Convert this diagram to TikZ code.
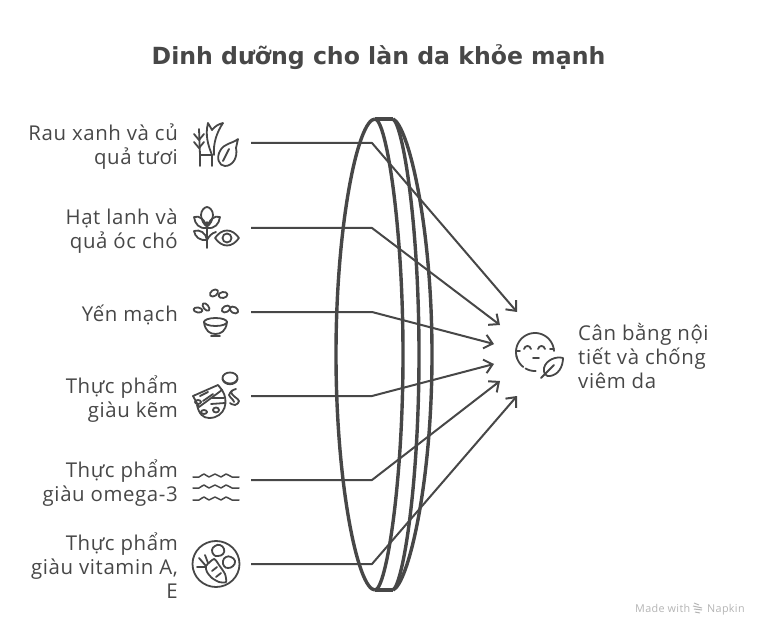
\documentclass[tikz,border=0pt]{standalone}
\usepackage{fontspec}
\setmainfont[LetterSpace=3]{Open Sans}
\newfontfamily\titlefont{DejaVu Sans}
\usetikzlibrary{arrows.meta}
\definecolor{ink}{HTML}{474747}
\definecolor{foot}{HTML}{B4B4B4}
\tikzset{
  lens/.style={draw=ink,line width=3.4pt},
  link/.style={draw=ink,line width=2pt,line join=round},
  linkarrow/.style={link,-{Straight Barb[length=8pt,width=14pt,line width=2pt]}},
  icon/.style={draw=ink,line width=1.8pt,line cap=round,line join=round},
  lab/.style={text=ink,font=\fontsize{20.4}{24}\selectfont,align=right,anchor=east,inner sep=0pt},
  labr/.style={text=ink,font=\fontsize{20.4}{24}\selectfont,align=left,anchor=west,inner sep=0pt},
  ttl/.style={text=ink,font=\titlefont\bfseries\fontsize{23.6}{26}\selectfont,inner sep=0pt},
  footer/.style={text=foot,font=\fontsize{10.8}{12}\selectfont,inner sep=0pt}
}
\begin{document}
\begin{tikzpicture}[x=1pt,y=-1pt]
\useasboundingbox (0,0) rectangle (768,636);
\node[ttl] (title) at (378.5,57.5) {Dinh dưỡng cho làn da khỏe mạnh};

% lens
\draw[lens] (375,119) .. controls (358,119) and (336,224) .. (336,354.5) .. controls (336,485) and (358,590) .. (375,590);
\draw[lens] (375,119) .. controls (386,119) and (403,224) .. (403,354.5) .. controls (403,485) and (386,590) .. (375,590);
\draw[lens] (393,119) .. controls (403,125) and (419,224) .. (419,354.5) .. controls (419,485) and (403,584) .. (393,590);
\draw[lens] (393,119) .. controls (408,125) and (432,224) .. (432,354.5) .. controls (432,485) and (408,584) .. (393,590);
\draw[lens] (375,119) -- (393,119);
\draw[lens] (375,590) -- (393,590);

% labels
\node[lab] (l1) at (178,147) {Rau xanh và củ\\quả tươi};
\node[lab] (l2) at (178,231) {Hạt lanh và\\quả óc chó};
\node[lab] (l3) at (178,315) {Yến mạch};
\node[lab] (l4) at (178,399) {Thực phẩm\\giàu kẽm};
\node[lab] (l5) at (178,483) {Thực phẩm\\giàu omega-3};
\node[lab] (l6) at (178,566) {Thực phẩm\\giàu vitamin A,\\E};
\node[labr] (r) at (578,355.5) {Cân bằng nội\\tiết và chống\\viêm da};
\node[footer,anchor=base west] (f1) at (635,612) {Made with};
\node[footer,anchor=base west] (f2) at (707,612) {Napkin};

% connectors
\foreach \n/\y/\tx/\ty in {1/143/517/312,2/228/500/325,3/312/494/344,4/396/494/364,5/480/500/381,6/564/517/396}{
  \coordinate (s\n) at (251,\y);
  \coordinate (b\n) at (372,\y);
  \coordinate (t\n) at (\tx,\ty);
  \draw[linkarrow] (s\n) -- (b\n) -- (t\n);
}

% icon 1
\draw[icon] (200,166) -- (200,155) -- (212,155) -- (212,166);
\draw[icon] (200,155) -- (199,129);
\draw[icon] (194,134) -- (199,140) -- (204,134) (194,142) -- (199,148) -- (204,142);
\draw[icon] (212,155) .. controls (208,145) and (205,135) .. (208,123) -- (212,130) .. controls (215,126) and (219,124) .. (223,123) .. controls (217,132) and (213,143) .. (214,155);
\draw[icon] (238,139) .. controls (232,144) and (224,143) .. (220,151) .. controls (216,158) and (219,166) .. (225,166) .. controls (233,166) and (238,157) .. (236,148) -- cycle;
\draw[icon] (223,161) -- (229,149);

% icon 2
\draw[icon] (207,248) -- (207,222);
\draw[icon] plot[smooth cycle,tension=.8] coordinates {(207,207) (201,215) (207,226) (213,215)};
\draw[icon] (194,217) .. controls (200,215) and (205,220) .. (207,228) .. controls (199,229) and (195,224) .. (194,217);
\draw[icon] (220,217) .. controls (214,215) and (209,220) .. (207,228) .. controls (215,229) and (219,224) .. (220,217);
\draw[icon] (194,231) .. controls (200,229) and (206,233) .. (207,240) .. controls (200,241) and (195,237) .. (194,231);
\draw[icon] (207,240) .. controls (209,236) and (212,233) .. (216,232);
\draw[icon] (215,238) .. controls (222,228) and (232,228) .. (239,238) .. controls (232,248) and (222,248) .. (215,238) -- cycle;
\draw[icon] (227,238) ellipse [x radius=4.5,y radius=4.5];

% icon 3
\draw[icon] (215.5,322) ellipse [x radius=11.5,y radius=4];
\draw[icon] (204,322) .. controls (205,331) and (210,334) .. (215.5,334) .. controls (221,334) and (226,331) .. (227,322);
\draw[icon] (211,336) -- (220,336);
\draw[icon,rotate around={35:(214,293)}] (214,293) ellipse [x radius=4.5,y radius=3];
\draw[icon,rotate around={10:(223,295)}] (223,295) ellipse [x radius=4.5,y radius=3];
\draw[icon,rotate around={-10:(198,310)}] (198,310) ellipse [x radius=4.5,y radius=2.5];
\draw[icon,rotate around={-50:(206,307)}] (206,307) ellipse [x radius=4.5,y radius=2.5];
\draw[icon,rotate around={30:(226,309)}] (226,309) ellipse [x radius=4.5,y radius=3];
\draw[icon,rotate around={-30:(234,310)}] (234,310) ellipse [x radius=4.5,y radius=3];

% icon 4
\draw[icon] (230,378) ellipse [x radius=7.5,y radius=5.5];
\draw[icon] (222.5,379) .. controls (224,386) and (236,386) .. (237.5,379);
\draw[icon] plot[smooth,tension=.8] coordinates {(236,389) (231,392) (235,397) (239,401) (235,405) (230,403)};
\draw[icon] plot[smooth,tension=.7] coordinates {(232,391) (229,395) (233,400) (234,402)};
\draw[icon] (193,396) -- (218,385) -- (222,390) -- (199,407) -- cycle;
\draw[icon] (200,396) -- (208,392) (203,401) -- (213,394);
\draw[icon] (222,390) .. controls (229,400) and (226,418) .. (209,418) .. controls (203,418) and (199,414) .. (197,405);
\draw[icon] (212,398) -- (224,398) (211,404) -- (225,403);
\draw[icon] (204,412) ellipse [x radius=3,y radius=2];
\draw[icon] (216,410) ellipse [x radius=3,y radius=2.5];
\draw[icon] (198,402) ellipse [x radius=3,y radius=2];

% icon 5
\foreach \dy in {0,11,23}{
  \draw[icon,line width=1.5pt,yshift=-\dy pt] plot[smooth,tension=.6] coordinates {(193,477) (199,477) (204,474) (209,477) (215,474) (221,477) (226,474) (232,477) (239,477)};
}

% icon 6
\draw[icon] (216,564) ellipse [x radius=23.5,y radius=23];
\draw[icon] plot[smooth cycle,tension=.4] coordinates {(206,566) (214,559) (219,565) (225,574) (226,582) (219,582) (212,578) (207,572)};
\draw[icon] (206,566) -- (199,558) (205,567) -- (197,567) (208,563) -- (205,555);
\draw[icon] (212,571) -- (217,567) (216,577) -- (221,573);
\draw[icon] plot[smooth cycle,tension=.8] coordinates {(212,550) (215,546) (220,545) (224,549) (223,554) (218,556) (214,555)};
\draw[icon] plot[smooth cycle,tension=.8] coordinates {(223,561) (226,557) (231,557) (235,561) (233,566) (228,568) (224,566)};

% result icon
\draw[icon] plot[domain=-200:-3,samples=30] ({535+19*cos(\x)},{352+19*sin(\x)});
\draw[icon] plot[domain=168:128,samples=10] ({535+19*cos(\x)},{352+19*sin(\x)});
\draw[icon] plot[domain=120:88,samples=10] ({535+19*cos(\x)},{352+19*sin(\x)});
\draw[icon] (516,351) -- (520,351) (550,349) -- (554,349);
\draw[icon] (524,349) .. controls (525,345) and (530,345) .. (531,349);
\draw[icon] (538,349) .. controls (539,345) and (544,345) .. (545,349);
\draw[icon] (533,358) -- (539,358);
\draw[icon] (563,358) .. controls (556,356) and (546,360) .. (544,368) .. controls (543,373) and (546,377) .. (550,376) .. controls (558,375) and (563,367) .. (563,358) -- cycle;
\draw[icon] (541,378) -- (554,365);

% footer mark
\draw[foot,line width=1pt] (694,603) -- (699,605) (693,606) -- (702,608) (694,609) -- (702,610) (695,612) -- (700,613);
\end{tikzpicture}
\end{document}
